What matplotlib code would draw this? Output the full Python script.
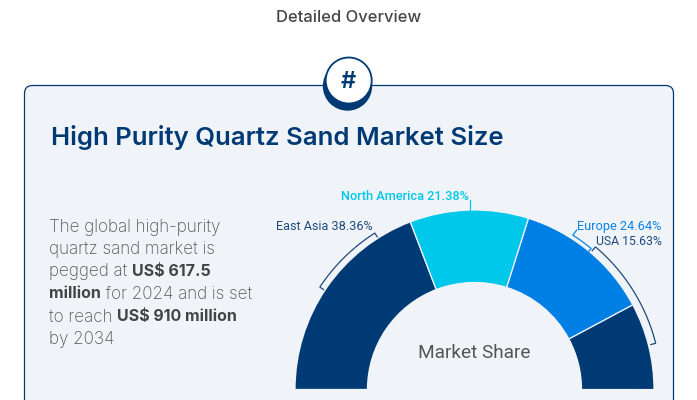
import numpy as np
import matplotlib
matplotlib.use("Agg")
import matplotlib.pyplot as plt
from matplotlib.patches import FancyBboxPatch, Circle

regions = ["East Asia", "North America", "Europe", "USA"]
shares = [38.36, 21.38, 24.64, 15.63]
colors = ["#003A75", "#00C8EA", "#0080E5", "#003A75"]
label_colors = ["#1F4A7C", "#00C8EA", "#0A84E6", "#1F4A7C"]
label_sizes = [9.1, 9.2, 9.2, 8.8]

title = "High Purity Quartz Sand Market Size"
header = "Detailed Overview"
center_label = "Market Share"

body_lines = [
    [("The global high-purity", False)],
    [("quartz sand market is", False)],
    [("pegged at ", False), ("US$ 617.5", True)],
    [("million", True), (" for 2024 and is set", False)],
    [("to reach ", False), ("US$ 910 million", True)],
    [("by 2034", False)],
]
body_y = [226, 248, 270, 292, 315, 337]

navy = "#003A75"
W, H = 697, 400
cx, cy = 474.5, 389.5
R, r_in = 179.5, 107

fig = plt.figure(figsize=(W / 100, H / 100), dpi=100, facecolor="white")
ax = fig.add_axes([0, 0, 1, 1])


def yy(py):
    return H - py


# ----- card -----
card = FancyBboxPatch((24.5, yy(430)), 649, 344.5, boxstyle="round,pad=0,rounding_size=8",
                      facecolor="#F0F4F8", edgecolor=navy, linewidth=0.9, zorder=1)
ax.add_patch(card)

# ----- badge -----
ax.add_patch(Circle((347.5, yy(86)), 24.7, facecolor=navy, edgecolor="none", zorder=2))
ax.add_patch(Circle((348.7, yy(80.5)), 23, facecolor="white", edgecolor=navy, linewidth=1.3, zorder=3))
ax.text(348.2, yy(82), "#", fontsize=17, fontweight="semibold", color=navy, family="Inter",
        ha="center", va="center", zorder=4)

# ----- half donut, shares are percent of the half circle -----
fractions = np.array(shares) / 200
ax.pie(fractions, colors=colors, startangle=180, counterclock=False, normalize=False,
       center=(cx, yy(cy)), radius=R,
       wedgeprops=dict(width=R - r_in, edgecolor="#F0F4F8", linewidth=0.9, zorder=5))

ax.set_xlim(0, W)
ax.set_ylim(0, H)
ax.set_aspect("auto")
ax.axis("off")


# ----- brackets outside the ring -----
def bracket(a0, a1, color, rad=185.5, tick=4.5):
    a = np.radians(np.linspace(a0, a1, 60))
    rr = np.r_[rad - tick, np.full(60, rad), rad - tick]
    aa = np.r_[a[0], a, a[-1]]
    ax.plot(cx + rr * np.cos(aa), yy(cy) + rr * np.sin(aa), color=color, lw=0.9, zorder=6,
            solid_joinstyle="miter")


bracket(146.5, 122.5, label_colors[0])
bracket(14.3, 49.7, label_colors[3], rad=187, tick=5)
# Europe bracket starts with a stub towards its label
a = np.radians(np.linspace(57.5, 50.4, 20))
ex = np.r_[576.7, cx + 183 * np.cos(a), cx + 179.5 * np.cos(a[-1])]
ey = np.r_[yy(230), yy(cy) + 183 * np.sin(a), yy(cy) + 179.5 * np.sin(a[-1])]
ax.plot(ex, ey, color=label_colors[2], lw=0.9, zorder=6)
ax.plot([469.5, 469.5], [yy(200), yy(211)], color=label_colors[1], lw=0.9, zorder=6)

# ----- labels -----
label_pos = [(373, 226.5, "right"), (469, 197, "right"), (661, 226.5, "right"), (662, 241.5, "right")]
for i in range(len(regions)):
    x, y, ha = label_pos[i]
    weight = "medium" if i == 1 else "normal"
    ax.text(x, yy(y), f"{regions[i]} {shares[i]:.2f}%", fontsize=label_sizes[i], color=label_colors[i],
            family="Roboto", fontweight=weight, ha=ha, va="center", zorder=7)

ax.text(474.5, yy(352.5), center_label, fontsize=13.7, color="#555555", family="Roboto",
        ha="center", va="center", zorder=7)

# ----- header and title -----
ax.text(348.5, yy(17), header, fontsize=11.9, color="#444444", family="Inter", fontweight="medium",
        ha="center", va="center")
ax.text(51, yy(138), title, fontsize=18.5, color=navy, family="Inter", fontweight="semibold",
        ha="left", va="center", zorder=7)

# ----- body text with bold runs -----
renderer = fig.canvas.get_renderer()
for line, y in zip(body_lines, body_y):
    x = 49
    for chunk, bold in line:
        t = ax.text(x, yy(y), chunk.replace(" ", "\u00a0"), fontsize=11.5 if bold else 12.3,
                    color="#444444" if bold else "#555555",
                    family="Inter", fontweight="bold" if bold else "light",
                    ha="left", va="center_baseline", zorder=7)
        x = ax.transData.inverted().transform(t.get_window_extent(renderer))[1, 0]

fig.savefig("out.png", dpi=100)
